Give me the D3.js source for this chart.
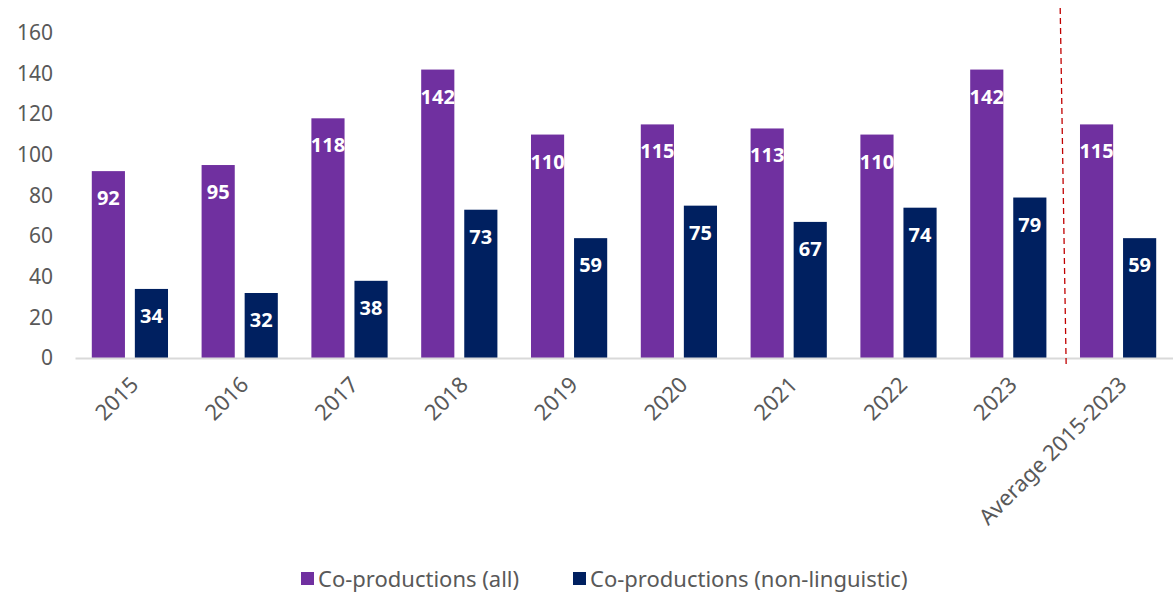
<!DOCTYPE html>
<html>
<head>
<meta charset="utf-8">
<script src="https://cdn.jsdelivr.net/npm/d3@7"></script>
<style>
  body { margin: 0; background: #fff; }
  text { font-family: 'Noto Sans', sans-serif; }
</style>
</head>
<body>
<div id="chart"></div>
<script>
const categories = ['2015', '2016', '2017', '2018', '2019', '2020', '2021', '2022', '2023', 'Average 2015-2023'];
const allValues = [92, 95, 118, 142, 110, 115, 113, 110, 142, 115];
const nonLingValues = [34, 32, 38, 73, 59, 75, 67, 74, 79, 59];
const seriesNames = ['Co-productions (all)', 'Co-productions (non-linguistic)'];
const yTicks = [0, 20, 40, 60, 80, 100, 120, 140, 160];

const width = 1173;
const height = 593;
const margin = { top: 33, right: 0, bottom: 235, left: 75 };
const colors = ['#7030A0', '#002060'];

const rows = categories.map((c, i) => ({ cat: c, values: [allValues[i], nonLingValues[i]] }));

const svg = d3.select('#chart')
  .append('svg')
  .attr('width', width)
  .attr('height', height);

const x = d3.scaleBand()
  .domain(categories)
  .range([margin.left, width - margin.right]);

const xInner = d3.scaleBand()
  .domain([0, 1])
  .range([0, x.bandwidth()])
  .paddingInner(0.23)
  .paddingOuter(0.39);

const y = d3.scaleLinear()
  .domain([0, 160])
  .range([height - margin.bottom, margin.top]);

// y axis labels
svg.append('g')
  .attr('transform', `translate(${margin.left},0)`)
  .call(d3.axisLeft(y).tickValues(yTicks).tickSize(0).tickPadding(22))
  .call((g) => g.select('.domain').remove())
  .selectAll('text')
  .attr('fill', '#595959')
  .style('font-size', '21px')
  .style('font-family', 'Noto Sans');

// bars
const groups = svg.selectAll('.cat')
  .data(rows)
  .enter()
  .append('g')
  .attr('class', 'cat')
  .attr('transform', (d) => `translate(${x(d.cat)},0)`);

groups.selectAll('rect')
  .data((d) => d.values)
  .enter()
  .append('rect')
  .attr('x', (d, i) => xInner(i))
  .attr('y', (d) => y(d))
  .attr('width', xInner.bandwidth())
  .attr('height', (d) => y(0) - y(d))
  .attr('fill', (d, i) => colors[i]);

groups.selectAll('.lbl')
  .data((d) => d.values)
  .enter()
  .append('text')
  .attr('class', 'lbl')
  .attr('x', (d, i) => xInner(i) + xInner.bandwidth() / 2)
  .attr('y', (d) => y(d) + 34)
  .attr('text-anchor', 'middle')
  .attr('fill', '#fff')
  .style('font-size', '20px')
  .style('font-weight', 'bold')
  .text((d) => d);

// x axis
const xAxisG = svg.append('g')
  .attr('transform', `translate(0,${y(0)})`)
  .call(d3.axisBottom(x).tickSize(0).tickSizeOuter(0));

xAxisG.select('.domain')
  .attr('stroke', '#d9d9d9')
  .attr('stroke-width', 2);

xAxisG.selectAll('text')
  .attr('fill', '#595959')
  .style('font-size', '22px')
  .style('font-family', 'Noto Sans')
  .attr('text-anchor', 'end')
  .attr('dy', '0')
  .attr('transform', 'translate(8,26) rotate(-45)');

// dashed separator before the average
const sepX = x(categories[categories.length - 1]);
svg.append('line')
  .attr('x1', sepX - 3)
  .attr('x2', sepX + 3)
  .attr('y1', 8)
  .attr('y2', y(0) + 10)
  .attr('stroke', '#C00000')
  .attr('stroke-width', 1.3)
  .attr('stroke-dasharray', '6,4');

// legend
const legendX = [301, 573];
const legend = svg.selectAll('.legend')
  .data(seriesNames)
  .enter()
  .append('g')
  .attr('class', 'legend')
  .attr('transform', (d, i) => `translate(${legendX[i]},579)`);

legend.append('rect')
  .attr('x', 0)
  .attr('y', -7)
  .attr('width', 13)
  .attr('height', 13)
  .attr('fill', (d, i) => colors[i]);

legend.append('text')
  .attr('x', 17)
  .attr('y', 0)
  .attr('dy', '0.35em')
  .attr('fill', '#595959')
  .style('font-size', '22px')
  .text((d) => d);
</script>
</body>
</html>
